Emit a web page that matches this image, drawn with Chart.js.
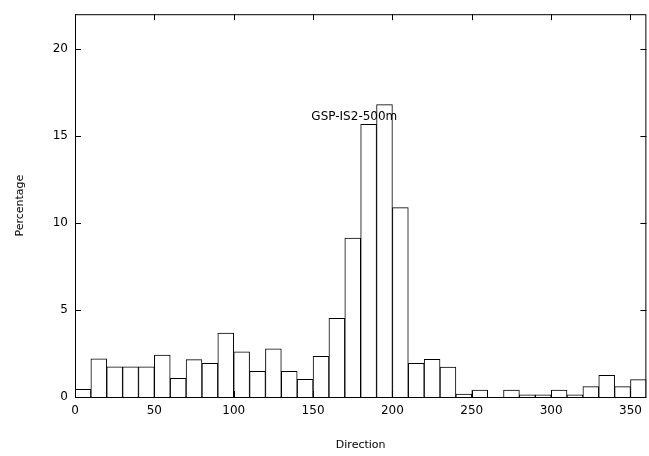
<!DOCTYPE html>
<html lang="en">
<head>
    <meta charset="UTF-8">
    <title>GSP-IS2-500m direction histogram</title>
    <script src="https://cdn.jsdelivr.net/npm/chart.js"></script>
    <style>
        html, body { margin: 0; padding: 0; background: #fff; }
        #wrap { width: 649px; height: 456px; }
    </style>
</head>
<body>
    <div id="wrap"><canvas id="histChart" width="649" height="456"></canvas></div>
    <script>
        // bin start (degrees), 10 degree bins
        const binStart = [0, 10, 20, 30, 40, 50, 60, 70, 80, 90, 100, 110, 120, 130, 140, 150, 160, 170,
                          180, 190, 200, 210, 220, 230, 240, 250, 260, 270, 280, 290, 300, 310, 320, 330, 340, 350];
        const percentage = [0.44, 2.19, 1.73, 1.73, 1.73, 2.41, 1.07, 2.15, 1.94, 3.68, 2.59, 1.47, 2.77, 1.47, 1.01, 2.34, 4.52, 9.14,
                            15.67, 16.8, 10.88, 1.93, 2.16, 1.72, 0.17, 0.4, 0, 0.4, 0.13, 0.13, 0.4, 0.13, 0.6, 1.25, 0.6, 1.0];
        const binWidth = 10;
        const xTicks = [0, 50, 100, 150, 200, 250, 300, 350];
        const yTicks = [0, 5, 10, 15, 20];
        const plotLabel = 'GSP-IS2-500m';
        const labelAt = { x: 176, y: 16.1 };

        const FONT = 'DejaVu Sans';

        // frame and inward ticks like the old plotting package
        const framePlugin = {
            id: 'frame',
            afterDraw(chart) {
                const { ctx, chartArea: a, scales } = chart;
                ctx.save();
                ctx.strokeStyle = '#000';
                ctx.lineWidth = 1;
                ctx.strokeRect(a.left + 0.5, a.top + 0.5, a.right - a.left - 1, a.bottom - a.top);
                ctx.beginPath();
                yTicks.forEach(v => {
                    const py = Math.round(scales.y.getPixelForValue(v)) + 0.5;
                    ctx.moveTo(a.left, py); ctx.lineTo(a.left + 6, py);
                    ctx.moveTo(a.right, py); ctx.lineTo(a.right - 6, py);
                });
                xTicks.forEach(v => {
                    const px = Math.round(scales.x.getPixelForValue(v)) + 0.5;
                    ctx.moveTo(px, a.top); ctx.lineTo(px, a.top + 6);
                    ctx.moveTo(px, a.bottom); ctx.lineTo(px, a.bottom - 6);
                });
                ctx.stroke();
                ctx.fillStyle = '#000';
                ctx.font = '12px "' + FONT + '"';
                ctx.textAlign = 'center';
                ctx.textBaseline = 'middle';
                ctx.fillText(plotLabel, scales.x.getPixelForValue(labelAt.x), scales.y.getPixelForValue(labelAt.y));
                ctx.restore();
            }
        };

        const ctx = document.getElementById('histChart').getContext('2d');
        new Chart(ctx, {
            type: 'bar',
            data: {
                datasets: [{
                    label: plotLabel,
                    data: binStart.map((b, i) => ({ x: b + binWidth / 2, y: percentage[i] })),
                    backgroundColor: '#fff',
                    borderColor: '#000',
                    borderWidth: 1,
                    borderSkipped: 'bottom',
                    barPercentage: 1,
                    categoryPercentage: 1
                }]
            },
            options: {
                responsive: false,
                animation: false,
                layout: { padding: { top: 13, right: 2, left: 0, bottom: 0 } },
                plugins: {
                    legend: { display: false },
                    tooltip: { enabled: false }
                },
                scales: {
                    x: {
                        type: 'linear',
                        offset: false,
                        min: 0,
                        max: 360,
                        afterFit(scale) { scale.height = 59; },
                        afterBuildTicks(scale) { scale.ticks = xTicks.map(v => ({ value: v })); },
                        grid: { display: false, offset: false, drawTicks: false },
                        border: { display: false },
                        ticks: { color: '#000', font: { family: FONT, size: 12 }, padding: 7, maxRotation: 0 },
                        title: { display: true, text: 'Direction', color: '#000', font: { family: FONT, size: 11 }, padding: { top: 20 } }
                    },
                    y: {
                        min: 0,
                        max: 22,
                        afterFit(scale) { scale.width = 75; },
                        afterBuildTicks(scale) { scale.ticks = yTicks.map(v => ({ value: v })); },
                        grid: { display: false, drawTicks: false },
                        border: { display: false },
                        ticks: { color: '#000', font: { family: FONT, size: 12 }, padding: 7 },
                        title: { display: true, text: 'Percentage', color: '#000', font: { family: FONT, size: 11 }, padding: { top: 14, bottom: 8 } }
                    }
                }
            },
            plugins: [framePlugin]
        });
    </script>
</body>
</html>
